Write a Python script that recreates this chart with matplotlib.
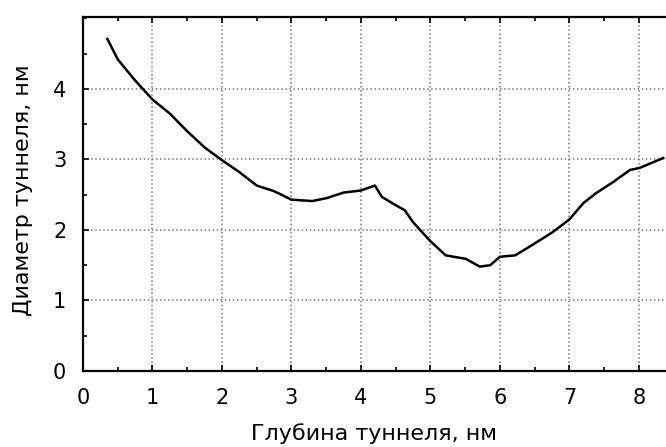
import numpy as np
import matplotlib.pyplot as plt
from matplotlib.ticker import MultipleLocator

# Глубина туннеля (нм) и диаметр (нм)
depth = [0.35, 0.5, 0.75, 1.0, 1.25, 1.5, 1.75, 2.0, 2.25, 2.5, 2.75, 3.0,
         3.3, 3.5, 3.75, 4.0, 4.2, 4.3, 4.45, 4.63, 4.75, 5.0, 5.22, 5.51,
         5.71, 5.86, 6.0, 6.22, 6.47, 6.76, 7.0, 7.2, 7.38, 7.63, 7.87, 8.01, 8.35]
diam = [4.71, 4.42, 4.12, 3.85, 3.65, 3.40, 3.17, 2.99, 2.82, 2.63, 2.55, 2.43,
        2.41, 2.45, 2.53, 2.56, 2.63, 2.47, 2.38, 2.28, 2.11, 1.84, 1.64, 1.59,
        1.48, 1.50, 1.62, 1.64, 1.79, 1.97, 2.15, 2.38, 2.52, 2.68, 2.85, 2.88, 3.02]

fig = plt.figure(figsize=(6.66, 4.47), dpi=100)
ax = fig.add_axes([83/666, 76/447, 583/666, 354/447])

ax.plot(depth, diam, 'k-', lw=1.8)

ax.set_xlim(0, 8.39)
ax.set_ylim(0, 5.02)
ax.xaxis.set_major_locator(MultipleLocator(1))
ax.xaxis.set_minor_locator(MultipleLocator(0.5))
ax.yaxis.set_major_locator(MultipleLocator(1))
ax.yaxis.set_minor_locator(MultipleLocator(0.5))
ax.set_yticks([0, 1, 2, 3, 4])

ax.tick_params(which='both', direction='in', labelsize=15, pad=12, top=True)
ax.tick_params(which='major', length=4, width=1.2)
ax.tick_params(which='minor', length=3, width=1.2)

ax.grid(True, which='major', linestyle=':', color='#777777', lw=1.1)
ax.spines['right'].set_visible(False)
for s in ['left', 'bottom', 'top']:
    ax.spines[s].set_linewidth(1.6)

ax.set_xlabel('Глубина туннеля, нм', fontsize=16)
ax.set_ylabel('Диаметр туннеля, нм', fontsize=16)
ax.xaxis.set_label_coords(291/583, -0.148)
ax.yaxis.set_label_coords(-0.085, 0.51)

plt.savefig('out.png', dpi=100)
